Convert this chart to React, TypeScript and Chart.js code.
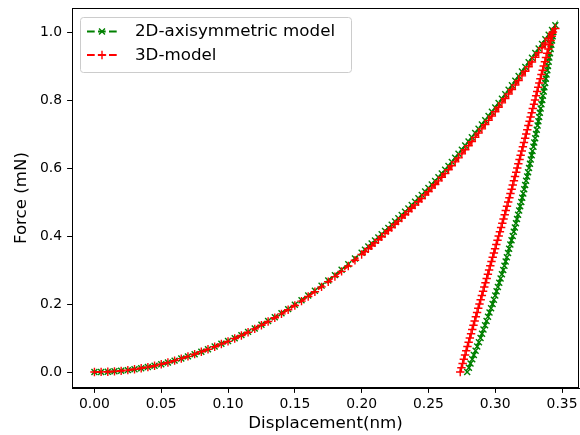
import React, { useEffect, useRef } from 'react';
import { Chart, registerables } from 'chart.js';

Chart.register(...registerables);

const seriesNames = ['2D-axisymmetric model', '3D-model'];
const seriesColors = ['#008000', '#ff0000'];

const xTicks = [0, 0.05, 0.1, 0.15, 0.2, 0.25, 0.3, 0.35];
const yTicks = [0, 0.2, 0.4, 0.6, 0.8, 1.0];

// loading branch: displacement (nm)
const loadX = [
  0, 0.005, 0.01, 0.015, 0.02, 0.025, 0.03, 0.035, 0.04, 0.045,
  0.05, 0.055, 0.06, 0.065, 0.07, 0.075, 0.08, 0.085, 0.09, 0.095,
  0.1, 0.105, 0.11, 0.115, 0.12, 0.125, 0.13, 0.135, 0.14, 0.145,
  0.15, 0.155, 0.16, 0.165, 0.17, 0.175, 0.18, 0.185, 0.19, 0.195,
  0.2, 0.2025, 0.205, 0.2075, 0.21, 0.2125, 0.215, 0.2175, 0.22, 0.2225,
  0.225, 0.2275, 0.23, 0.2325, 0.235, 0.2375, 0.24, 0.2425, 0.245, 0.2475,
  0.25, 0.2525, 0.255, 0.2575, 0.26, 0.2625, 0.265, 0.2675, 0.27, 0.2725,
  0.275, 0.2775, 0.28, 0.2825, 0.285, 0.2875, 0.29, 0.2925, 0.295, 0.2975,
  0.3, 0.3025, 0.305, 0.3075, 0.31, 0.3125, 0.315, 0.3175, 0.32, 0.3225,
  0.325, 0.3275, 0.33, 0.3325, 0.335, 0.3375, 0.34, 0.3425, 0.345,
];

// loading branch force (mN), 3D model
const load3D = [
  0, 0.0003, 0.001, 0.002, 0.0035, 0.0055, 0.008, 0.011, 0.0145, 0.0185,
  0.023, 0.028, 0.0335, 0.0395, 0.046, 0.0525, 0.0595, 0.067, 0.0745, 0.0825,
  0.09, 0.0985, 0.1075, 0.117, 0.127, 0.1375, 0.1485, 0.1595, 0.171, 0.183,
  0.1955, 0.2085, 0.222, 0.236, 0.2505, 0.2655, 0.2805, 0.296, 0.312, 0.3285,
  0.3455, 0.354, 0.3625, 0.371, 0.38, 0.389, 0.398, 0.407, 0.416, 0.425,
  0.4345, 0.4437, 0.453, 0.4625, 0.472, 0.4815, 0.491, 0.5007, 0.5105, 0.5205,
  0.5305, 0.541, 0.5515, 0.5622, 0.573, 0.584, 0.595, 0.6065, 0.618, 0.6297,
  0.6415, 0.6535, 0.6655, 0.6777, 0.69, 0.7025, 0.715, 0.7275, 0.74, 0.7527,
  0.7655, 0.7785, 0.7915, 0.8045, 0.8175, 0.8307, 0.844, 0.8575, 0.871, 0.8845,
  0.898, 0.9117, 0.9255, 0.9395, 0.9535, 0.9675, 0.9815, 0.996, 1.0105,
];

// loading branch force (mN), 2D axisymmetric model
const load2D = [
  0, 0.0003, 0.001, 0.002, 0.0035, 0.0055, 0.008, 0.011, 0.0145, 0.0185,
  0.023, 0.028, 0.0335, 0.0395, 0.046, 0.0525, 0.0595, 0.067, 0.075, 0.083,
  0.091, 0.0995, 0.1085, 0.118, 0.128, 0.139, 0.15, 0.161, 0.173, 0.185,
  0.198, 0.211, 0.225, 0.239, 0.254, 0.269, 0.285, 0.301, 0.317, 0.334,
  0.351, 0.36, 0.369, 0.378, 0.387, 0.396, 0.405, 0.4145, 0.424, 0.4335,
  0.443, 0.4525, 0.462, 0.4715, 0.481, 0.491, 0.501, 0.511, 0.521, 0.531,
  0.541, 0.5515, 0.562, 0.573, 0.584, 0.595, 0.606, 0.618, 0.63, 0.642,
  0.654, 0.666, 0.678, 0.6905, 0.703, 0.7155, 0.728, 0.7405, 0.753, 0.7655,
  0.778, 0.791, 0.804, 0.817, 0.83, 0.8435, 0.857, 0.8705, 0.884, 0.8975,
  0.911, 0.9245, 0.938, 0.9515, 0.965, 0.9785, 0.992, 1.006, 1.02,
];

// unloading branch force (mN)
const unloadY = [
  1.0, 0.9875, 0.975, 0.9625, 0.95, 0.9375, 0.925, 0.9125, 0.9,
  0.8875, 0.875, 0.8625, 0.85, 0.8375, 0.825, 0.8125, 0.8,
  0.7875, 0.775, 0.7625, 0.75, 0.7375, 0.725, 0.7125, 0.7,
  0.6875, 0.675, 0.6625, 0.65, 0.6375, 0.625, 0.6125, 0.6,
  0.5875, 0.575, 0.5625, 0.55, 0.5375, 0.525, 0.5125, 0.5,
  0.4875, 0.475, 0.4625, 0.45, 0.4375, 0.425, 0.4125, 0.4,
  0.3875, 0.375, 0.3625, 0.35, 0.3375, 0.325, 0.3125, 0.3,
  0.2875, 0.275, 0.2625, 0.25, 0.2375, 0.225, 0.2125, 0.2,
  0.1875, 0.175, 0.1625, 0.15, 0.1375, 0.125, 0.1125, 0.1,
  0.0875, 0.075, 0.0625, 0.05, 0.0375, 0.025, 0.0125, 0,
];

// unloading branch displacement (nm), 3D model
const unload3DX = [
  0.3432, 0.3423, 0.3415, 0.3406, 0.3398, 0.3389, 0.338, 0.3372, 0.3363,
  0.3355, 0.3346, 0.3338, 0.333, 0.3322, 0.3314, 0.3306, 0.3298,
  0.329, 0.3281, 0.3273, 0.3265, 0.3257, 0.3248, 0.324, 0.3232,
  0.3224, 0.3215, 0.3207, 0.3199, 0.319, 0.3182, 0.3173, 0.3165,
  0.3157, 0.3148, 0.314, 0.3131, 0.3123, 0.3114, 0.3106, 0.3097,
  0.3088, 0.3079, 0.3071, 0.3062, 0.3053, 0.3044, 0.3035, 0.3026,
  0.3017, 0.3008, 0.2999, 0.299, 0.2981, 0.2972, 0.2963, 0.2954,
  0.2945, 0.2936, 0.2927, 0.2918, 0.2909, 0.29, 0.2891, 0.2882,
  0.2873, 0.2864, 0.2855, 0.2846, 0.2837, 0.2828, 0.2819, 0.281,
  0.2801, 0.2792, 0.2783, 0.2774, 0.2765, 0.2756, 0.2747, 0.2738,
];

// unloading branch displacement (nm), 2D axisymmetric model
const unload2DX = [
  0.3435, 0.343, 0.3425, 0.342, 0.3415, 0.341, 0.3405, 0.34, 0.3395,
  0.339, 0.3384, 0.3379, 0.3374, 0.3368, 0.3363, 0.3357, 0.3352,
  0.3346, 0.334, 0.3334, 0.3329, 0.3323, 0.3317, 0.3311, 0.3305,
  0.3299, 0.3292, 0.3286, 0.3279, 0.3273, 0.3266, 0.326, 0.3253,
  0.3246, 0.3239, 0.3231, 0.3224, 0.3217, 0.321, 0.3202, 0.3195,
  0.3187, 0.3179, 0.3171, 0.3163, 0.3155, 0.3147, 0.3139, 0.3131,
  0.3122, 0.3113, 0.3104, 0.3096, 0.3087, 0.3078, 0.3069, 0.306,
  0.305, 0.304, 0.303, 0.302, 0.301, 0.3, 0.299, 0.298,
  0.2969, 0.2957, 0.2946, 0.2935, 0.2924, 0.2912, 0.2901, 0.289,
  0.2878, 0.2865, 0.2853, 0.284, 0.2828, 0.2815, 0.2803, 0.279,
];

const FONT = 'DejaVu Sans';
const TICK_FONT = 13.9;
const LABEL_FONT = 16.7;

function buildPoints(loadY: number[], unX: number[]) {
  const pts = loadX.map((x, i) => ({ x, y: loadY[i] }));
  return pts.concat(unloadY.map((y, i) => ({ x: unX[i], y })));
}

const spinePlugin = {
  id: 'spines',
  afterDraw(chart: any) {
    const { ctx, chartArea } = chart;
    const l = Math.round(chartArea.left) + 0.5;
    const t = Math.round(chartArea.top) + 0.5;
    const r = Math.round(chartArea.right) - 0.5;
    const b = Math.round(chartArea.bottom) - 0.5;
    ctx.save();
    ctx.strokeStyle = '#000';
    ctx.lineWidth = 1;
    ctx.setLineDash([]);
    ctx.strokeRect(l, t, r - l, b - t);
    ctx.restore();
  },
};

function drawMarker(ctx: CanvasRenderingContext2D, style: string, x: number, y: number, r: number) {
  ctx.beginPath();
  if (style === 'cross') {
    ctx.moveTo(x - r, y);
    ctx.lineTo(x + r, y);
    ctx.moveTo(x, y - r);
    ctx.lineTo(x, y + r);
  } else {
    const d = r * Math.SQRT1_2;
    ctx.moveTo(x - d, y - d);
    ctx.lineTo(x + d, y + d);
    ctx.moveTo(x - d, y + d);
    ctx.lineTo(x + d, y - d);
  }
  ctx.stroke();
}

const legendPlugin = {
  id: 'mplLegend',
  afterDraw(chart: any) {
    const ctx: CanvasRenderingContext2D = chart.ctx;
    const area = chart.chartArea;
    const bx = area.left + 8.5;
    const by = area.top + 9.5;
    const bw = 271;
    const bh = 55;
    ctx.save();
    ctx.setLineDash([]);
    ctx.beginPath();
    (ctx as any).roundRect(bx, by, bw, bh, 3);
    ctx.fillStyle = 'rgba(255,255,255,0.8)';
    ctx.fill();
    ctx.strokeStyle = '#cccccc';
    ctx.lineWidth = 1;
    ctx.stroke();
    const styles = ['crossRot', 'cross'];
    seriesNames.forEach((name, i) => {
      const y = by + 14 + i * 23.5;
      const x0 = bx + 6.5;
      const x1 = x0 + 30;
      ctx.strokeStyle = seriesColors[i];
      ctx.lineWidth = 2;
      ctx.setLineDash([7.7, 3.3]);
      ctx.beginPath();
      ctx.moveTo(x0, y);
      ctx.lineTo(x1, y);
      ctx.stroke();
      ctx.setLineDash([]);
      ctx.lineWidth = 1.4;
      drawMarker(ctx, styles[i], (x0 + x1) / 2, y, 4.2);
      ctx.fillStyle = '#000';
      ctx.font = `${LABEL_FONT}px "${FONT}"`;
      ctx.textBaseline = 'middle';
      ctx.textAlign = 'left';
      ctx.fillText(name, bx + 54.5, y + 0.5);
    });
    ctx.restore();
  },
};

function zeroPadding(s: any) {
  s.paddingTop = 0;
  s.paddingBottom = 0;
  s.paddingLeft = 0;
  s.paddingRight = 0;
}

export default function App() {
  const canvasRef = useRef<HTMLCanvasElement>(null);

  useEffect(() => {
    document.body.style.margin = '0';
    const canvas = canvasRef.current;
    if (!canvas) return;
    Chart.defaults.font.family = FONT;
    Chart.defaults.color = '#000';

    const common = (showLabel: string, color: string, style: string, order: number) => ({
      label: showLabel,
      showLine: true,
      borderColor: color,
      backgroundColor: color,
      borderWidth: 2,
      borderDash: [7.7, 3.3],
      pointStyle: style,
      pointRadius: 4.2,
      pointBorderWidth: 1.4,
      pointBorderColor: color,
      pointBackgroundColor: color,
      order,
    });

    const chart = new Chart(canvas, {
      type: 'scatter',
      data: {
        datasets: [
          { ...common(seriesNames[0], seriesColors[0], 'crossRot', 2), data: buildPoints(load2D, unload2DX) },
          { ...common(seriesNames[1], seriesColors[1], 'cross', 1), data: buildPoints(load3D, unload3DX) },
        ],
      },
      options: {
        animation: false,
        responsive: false,
        devicePixelRatio: 1,
        layout: { autoPadding: false, padding: { left: 0, right: 1, top: 8, bottom: 0 } },
        plugins: {
          legend: { display: false },
          tooltip: { enabled: false },
        },
        scales: {
          x: {
            type: 'linear',
            min: -0.0168,
            max: 0.3627,
            afterBuildTicks: (s: any) => {
              s.ticks = xTicks.map((v) => ({ value: v }));
            },
            afterFit: (s: any) => {
              s.height = 47;
              zeroPadding(s);
            },
            grid: { drawOnChartArea: false, drawTicks: true, tickLength: 4.9, tickColor: '#000', tickWidth: 1 },
            border: { display: true, color: '#000', width: 1 },
            ticks: {
              padding: 3,
              color: '#000',
              autoSkip: false,
              maxRotation: 0,
              font: { size: TICK_FONT },
              callback: (v: any) => Number(v).toFixed(2),
            },
            title: {
              display: true,
              text: 'Displacement(nm)',
              color: '#000',
              font: { size: LABEL_FONT },
              padding: { top: 0, bottom: 1 },
            },
          },
          y: {
            type: 'linear',
            min: -0.047,
            max: 1.0706,
            afterBuildTicks: (s: any) => {
              s.ticks = yTicks.map((v) => ({ value: v }));
            },
            afterFit: (s: any) => {
              s.width = 72;
              zeroPadding(s);
            },
            grid: { drawOnChartArea: false, drawTicks: true, tickLength: 4.9, tickColor: '#000', tickWidth: 1 },
            border: { display: true, color: '#000', width: 1 },
            ticks: {
              padding: 5,
              color: '#000',
              autoSkip: false,
              font: { size: TICK_FONT },
              callback: (v: any) => Number(v).toFixed(1),
            },
            title: {
              display: true,
              text: 'Force (mN)',
              color: '#000',
              font: { size: LABEL_FONT },
              padding: { top: 12, bottom: 0 },
            },
          },
        },
      },
      plugins: [spinePlugin, legendPlugin],
    } as any);

    return () => {
      chart.destroy();
    };
  }, []);

  return (
    <div style={{ width: 580, height: 435 }}>
      <canvas ref={canvasRef} width={580} height={435} style={{ display: 'block' }} />
    </div>
  );
}
